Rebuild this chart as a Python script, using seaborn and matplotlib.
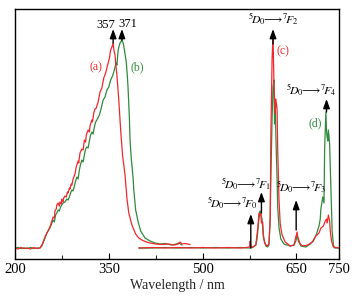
import matplotlib
matplotlib.use("Agg")
import matplotlib.pyplot as plt
import seaborn as sns
import pandas as pd

# ---------------- data ----------------
# excitation spectrum (a), red
exc_a_nm = [200, 205, 210, 215, 220, 225, 230, 235, 240, 244, 248, 252, 256, 259, 261, 263, 264,
            266, 267, 269, 271, 272, 274, 275, 277, 278, 280, 282, 284, 285, 287, 288, 290, 291,
            293, 296, 298, 301, 302, 304, 307, 309, 311, 313, 314, 317, 319, 320, 323, 324, 326,
            328, 330, 333, 336, 339, 342, 345, 349, 351, 353, 355, 357,
            358, 360, 361, 363, 366, 369, 372, 376, 379, 382, 387, 393, 398, 403, 410, 416,
            425, 435, 445, 455, 461, 464, 467, 472, 480]
exc_a_h = [11, 10, 11.5, 10.5, 11, 10, 11.5, 10.5, 11, 15, 22, 27, 32, 38, 42, 41, 48,
           50, 54, 56, 53, 57, 55, 60, 57, 61, 63, 62, 67, 66, 71, 70, 75, 74,
           80, 85, 92, 98, 96, 106, 110, 109, 119, 117, 124, 129, 127, 133, 139, 137, 146,
           150, 151, 157, 167, 171, 181, 186, 196, 201, 209, 212, 216,
           210, 204, 196, 184, 159, 129, 104, 84, 61, 46, 34, 25, 21, 19, 17, 16,
           15, 14.5, 15, 14, 15, 17, 15, 15.5, 14.5]

# excitation spectrum (b), green
exc_b_nm = [200, 205, 210, 215, 220, 225, 230, 235, 240, 243, 247, 251, 256, 261, 263, 265, 267, 269,
            271, 273, 275, 277, 280, 283, 285, 287, 289, 291, 293, 295, 297, 299, 301, 303, 305,
            307, 309, 311, 313, 315, 317, 319, 321, 323, 325, 327, 329, 331,
            335, 338, 341, 344, 347, 350, 353, 356, 358, 360, 362, 363, 365, 367, 368, 370,
            371, 373, 374, 376, 378, 380, 381, 383, 384, 386, 387, 389, 390, 393, 397, 401,
            408, 416, 424, 432, 440, 450, 458, 462, 467]
exc_b_h = [11, 11.5, 10.5, 11, 10.5, 11.5, 10.5, 11, 11, 13, 19, 26, 31, 39, 37, 44, 46, 49,
           48, 52, 54, 56, 57, 60, 59, 62, 66, 69, 68, 73, 78, 82, 80, 89, 95,
           99, 97, 104, 110, 112, 111, 118, 124, 127, 125, 132, 137, 139,
           144, 151, 159, 162, 169, 172, 179, 183, 187, 192, 196, 194, 209, 214, 216, 218,
           219, 216, 213, 205, 197, 180, 169, 140, 119, 100, 94, 80, 69, 49, 37, 28,
           21, 18, 16, 15, 15.5, 14, 15, 16, 14]

# emission spectrum (c), red
em_c_nm = [398, 420, 440, 460, 480, 500, 520, 540, 560, 570, 575, 576, 577, 578, 580, 585,
           588, 590, 592, 593, 594, 596, 597, 599, 603, 606, 608, 609, 611, 612.5, 614, 616,
           617, 619, 620, 622, 624, 627, 632, 640, 646, 649, 651, 652, 656, 660, 668, 675,
           681, 686, 689, 693, 696, 698, 699, 701, 703, 704, 706, 709, 718]
em_c_h = [11, 11.5, 11, 11.5, 11, 11.5, 11, 11.5, 11, 11.5, 12, 18, 13, 11.5, 12, 14,
          30, 46, 44, 45, 36, 37, 25, 16, 13, 15, 40, 120, 200, 224, 175, 145,
          160, 150, 110, 60, 35, 24, 17, 13, 14, 22, 27, 22, 15, 13, 14, 17,
          23, 26, 31, 33, 38, 40, 36, 44, 38, 28, 18, 12, 11]

# emission spectrum (d), green
em_d_nm = [398, 420, 440, 460, 480, 500, 520, 540, 560, 575, 580, 585, 587, 590, 592, 593,
           595, 597, 601, 604, 606, 608, 609, 611, 612.5, 614, 615, 616, 617, 619, 620, 622,
           625, 630, 640, 646, 649, 651, 653, 657, 665, 672, 677, 682, 686, 688, 689, 691,
           692, 694, 695, 697, 698, 699, 700, 701, 703, 704, 706, 707, 709, 711, 718]
em_d_h = [11, 11, 11.5, 11, 11.5, 11, 11.5, 11, 11.5, 11, 11.5, 14, 20, 40, 48, 45,
          40, 22, 13, 12, 14, 40, 80, 140, 172, 179, 135, 158, 125, 80, 52, 32,
          20, 15, 13, 14, 18, 24, 18, 13, 12, 15, 18, 25, 33, 40, 50, 58,
          62, 56, 110, 147, 128, 122, 118, 129, 115, 92, 50, 28, 14, 11, 11]

tick_pos = [200, 350, 500, 650, 718]
tick_labels = ["200", "350", "500", "650", "750"]
minor_pos = [275, 425, 575]

RED = "#f0282d"
GREEN = "#2f8a3c"

# ---------------- style ----------------
sns.set_theme(style="white")
plt.rcParams["font.family"] = ["Liberation Serif", "DejaVu Serif"]
plt.rcParams["mathtext.fontset"] = "stix"

fig = plt.figure(figsize=(3.55, 3.01), dpi=100)
ax = fig.add_axes([0.042, 0.1395, 0.913, 0.8305])

for nm, h, c in [(exc_b_nm, exc_b_h, GREEN), (exc_a_nm, exc_a_h, RED),
                 (em_d_nm, em_d_h, GREEN), (em_c_nm, em_c_h, RED)]:
    df = pd.DataFrame({"nm": nm, "h": h})
    sns.lineplot(data=df, x="nm", y="h", ax=ax, color=c, lw=0.9,
                 estimator=None, sort=False)

ax.set_xlim(200, 718)
ax.set_ylim(0, 250)
ax.set_xlabel("Wavelength / nm", fontsize=10, labelpad=2)
ax.set_ylabel("")
ax.set_yticks([])
ax.set_xticks(tick_pos)
ax.set_xticklabels(tick_labels, fontsize=10.5)
ax.set_xticks(minor_pos, minor=True)
ax.tick_params(axis="x", which="major", direction="in", length=4, width=0.8,
               pad=3, bottom=True, top=False, colors="black")
ax.tick_params(axis="x", which="minor", direction="in", length=3, width=0.8,
               bottom=True, top=False)
for s in ax.spines.values():
    s.set_visible(True)
    s.set_color("black")
    s.set_linewidth(1.0)

arrow_kw = dict(arrowstyle="-|>,head_length=0.55,head_width=0.2", color="black",
                lw=1.0, shrinkA=0, shrinkB=0, mutation_scale=10)

def arrow(x, y0, y1):
    ax.annotate("", xy=(x, y1), xytext=(x, y0), arrowprops=arrow_kw)

arrow(357, 216, 230)
arrow(371, 219, 230)
arrow(612.5, 215, 230)
arrow(698, 147, 160)
arrow(594, 46, 67)
arrow(577, 11, 45)
arrow(649.5, 29, 59)

tx = dict(ha="center", va="center")
ax.text(345.5, 234, "357", fontsize=9, color="black", **tx)
ax.text(380.7, 235, "371", fontsize=9, color="black", **tx)
ax.text(329.5, 192, "(a)", fontsize=8.5, color=RED, **tx)
ax.text(395, 192, "(b)", fontsize=8.5, color=GREEN, **tx)
ax.text(628.5, 208, "(c)", fontsize=8.5, color=RED, **tx)
ax.text(679.6, 136, "(d)", fontsize=8.5, color=GREEN, **tx)

def trans(j):
    return r"$^{5}\!D_{0}\!\!\longrightarrow\!{}^{7}\!F_{%d}$" % j

ax.text(612.5, 240, trans(2), fontsize=8.5, color="black", **tx)
ax.text(673, 169, trans(4), fontsize=8.5, color="black", **tx)
ax.text(569, 75, trans(1), fontsize=8.5, color="black", **tx)
ax.text(547, 56, trans(0), fontsize=8.5, color="black", **tx)
ax.text(657, 72, trans(3), fontsize=8.5, color="black", **tx)

fig.savefig("out.png", dpi=100)
